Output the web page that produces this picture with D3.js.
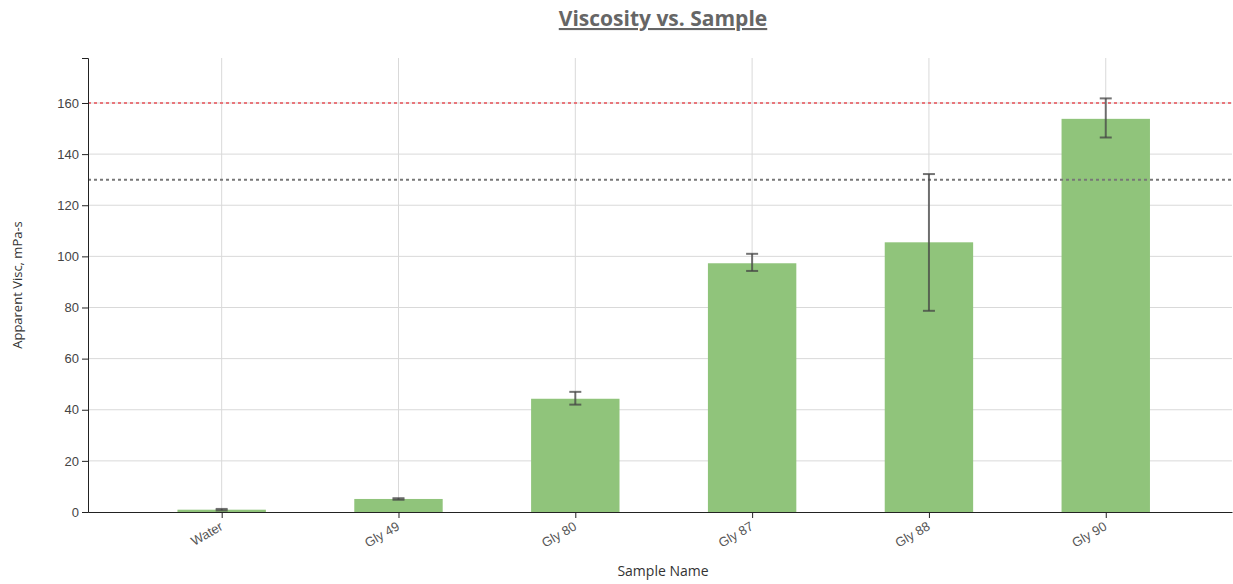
<!DOCTYPE html>
<html>
<head>
<meta charset="utf-8">
<script src="https://cdn.jsdelivr.net/npm/d3@7"></script>
<style>
  body { margin: 0; background: #fff; }
  .tick text { font-family: "Liberation Sans", Arial, sans-serif; font-size: 13px; fill: #444; }
  .grid line { stroke: #d9d9d9; stroke-width: 1; }
  .axis-title { font-family: "Open Sans", sans-serif; font-size: 13px; fill: #333; }
</style>
</head>
<body>
<div id="chart"></div>
<script>
// data
const samples = ['Water', 'Gly 49', 'Gly 80', 'Gly 87', 'Gly 88', 'Gly 90'];
const viscosity = [0.9, 5.1, 44.3, 97.3, 105.5, 153.8];
const errLow = [0.6, 4.8, 42.0, 94.3, 78.7, 146.5];
const errHigh = [1.2, 5.4, 47.0, 101.0, 132.2, 161.8];
const yTicks = [0, 20, 40, 60, 80, 100, 120, 140, 160];
const refLines = [
  { value: 160, color: '#e8767b' },
  { value: 130, color: '#777' }
];

const width = 1233, height = 584;
const margin = { top: 58, right: 1, bottom: 72, left: 88 };

const svg = d3.select('#chart').append('svg')
  .attr('width', width)
  .attr('height', height);

const x = d3.scaleLinear()
  .domain([-0.756, 5.714])
  .range([margin.left, width - margin.right]);

const y = d3.scaleLinear()
  .domain([0, 177.6])
  .range([height - margin.bottom, margin.top]);

const barW = (x(1) - x(0)) * 0.5;

// grid
svg.append('g').attr('class', 'grid')
  .selectAll('line.h')
  .data(yTicks.filter(d => d > 0))
  .enter().append('line')
  .attr('x1', margin.left).attr('x2', width - margin.right)
  .attr('y1', d => y(d)).attr('y2', d => y(d));

svg.append('g').attr('class', 'grid')
  .selectAll('line.v')
  .data(samples)
  .enter().append('line')
  .attr('x1', (d, i) => x(i)).attr('x2', (d, i) => x(i))
  .attr('y1', y.range()[1]).attr('y2', y(0));

// bars
svg.append('g')
  .selectAll('rect')
  .data(viscosity)
  .enter().append('rect')
  .attr('x', (d, i) => x(i) - barW / 2)
  .attr('width', barW)
  .attr('y', d => y(d))
  .attr('height', d => y(0) - y(d))
  .attr('fill', '#90c47b');

// reference lines
svg.append('g')
  .selectAll('line')
  .data(refLines)
  .enter().append('line')
  .attr('x1', margin.left).attr('x2', width - margin.right)
  .attr('y1', d => y(d.value)).attr('y2', d => y(d.value))
  .attr('stroke', d => d.color)
  .attr('stroke-width', 2)
  .attr('stroke-dasharray', '3 3');

// error bars
const err = svg.append('g')
  .attr('stroke', '#444')
  .attr('stroke-opacity', 0.75)
  .attr('stroke-width', 2);

samples.forEach((s, i) => {
  const cx = x(i);
  err.append('line').attr('x1', cx).attr('x2', cx).attr('y1', y(errLow[i])).attr('y2', y(errHigh[i]));
  err.append('line').attr('x1', cx - 6).attr('x2', cx + 6).attr('y1', y(errLow[i])).attr('y2', y(errLow[i]));
  err.append('line').attr('x1', cx - 6).attr('x2', cx + 6).attr('y1', y(errHigh[i])).attr('y2', y(errHigh[i]));
});

// axes
const xAxis = svg.append('g')
  .attr('transform', `translate(0,${y(0)})`)
  .call(d3.axisBottom(x)
    .tickValues(d3.range(samples.length))
    .tickFormat(i => samples[i])
    .tickSizeOuter(0));

xAxis.selectAll('.tick text')
  .attr('text-anchor', 'end')
  .attr('x', 0)
  .attr('y', 0)
  .attr('dy', '0.71em')
  .attr('transform', 'translate(-3,9) rotate(-30)')
  .style('fill', '#555');

svg.append('g')
  .attr('transform', `translate(${margin.left},0)`)
  .call(d3.axisLeft(y).tickValues(yTicks));

svg.selectAll('.domain, .tick line').attr('stroke', '#222');

// titles
svg.append('text')
  .attr('x', 663).attr('y', 26)
  .attr('text-anchor', 'middle')
  .style('font-family', '"Open Sans", sans-serif')
  .style('font-size', '21px')
  .style('font-weight', 'bold')
  .style('text-decoration', 'underline')
  .style('fill', '#666')
  .text('Viscosity vs. Sample');

svg.append('text')
  .attr('class', 'axis-title')
  .attr('x', 663).attr('y', 576)
  .attr('text-anchor', 'middle')
  .style('font-size', '14px')
  .text('Sample Name');

svg.append('text')
  .attr('class', 'axis-title')
  .attr('transform', `translate(22,${285}) rotate(-90)`)
  .attr('text-anchor', 'middle')
  .text('Apparent Visc, mPa-s');
</script>
</body>
</html>
